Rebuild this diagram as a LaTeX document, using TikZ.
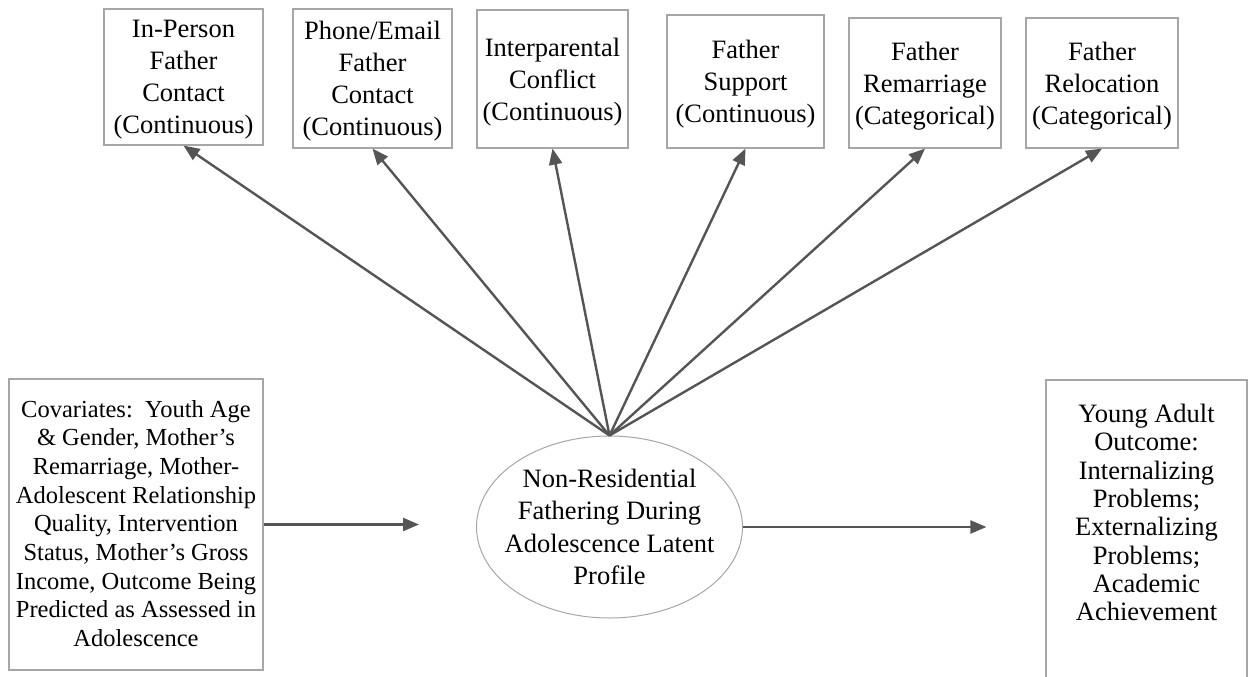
\documentclass[tikz,border=0pt]{standalone}
\usepackage{fontspec}
\setmainfont{Liberation Serif}
\usetikzlibrary{arrows.meta,shapes.geometric,calc}
\definecolor{arrowgray}{HTML}{555555}
\definecolor{framegray}{HTML}{A6A6A6}
\begin{document}
\begin{tikzpicture}[x=1pt,y=-1pt,
  frame/.style={draw=framegray,line width=1.2pt,inner sep=0pt},
  toptext/.style={inner sep=0pt,align=center,font=\fontsize{26.5}{32}\selectfont},
  covtext/.style={inner sep=0pt,align=center,font=\fontsize{24.5}{28.7}\selectfont},
  outtext/.style={inner sep=0pt,align=center,font=\fontsize{26.5}{28.3}\selectfont},
  latent/.style={draw=framegray,line width=1pt,ellipse,inner sep=0pt},
  latenttext/.style={inner sep=0pt,align=center,font=\fontsize{26.5}{32.5}\selectfont},
  conn/.style={draw=arrowgray,line width=2.4pt,-{Triangle[length=16pt,width=13pt]}}]
\useasboundingbox (0,0) rectangle (1253,677);
\clip (0,0) rectangle (1253,677);

\node[frame,minimum width=159pt,minimum height=136pt] (b1) at (183.5,77) {};
\node[toptext] (b1t) at ($(b1.center)+(0,3)$) {In-Person\\Father\\Contact\\(Continuous)};
\node[frame,minimum width=159pt,minimum height=139pt] (b2) at (372.5,78.5) {};
\node[toptext] (b2t) at ($(b2.center)+(0,3)$) {Phone/Email\\Father\\Contact\\(Continuous)};
\node[frame,minimum width=151pt,minimum height=138pt] (b3) at (552.5,79) {};
\node[toptext] (b3t) at ($(b3.center)+(0,3)$) {Interparental\\Conflict\\(Continuous)};
\node[frame,minimum width=157pt,minimum height=133pt] (b4) at (745.5,81.5) {};
\node[toptext] (b4t) at ($(b4.center)+(0,3)$) {Father\\Support\\(Continuous)};
\node[frame,minimum width=152pt,minimum height=130pt] (b5) at (925,83) {};
\node[toptext] (b5t) at ($(b5.center)+(0,3)$) {Father\\Remarriage\\(Categorical)};
\node[frame,minimum width=152pt,minimum height=130pt] (b6) at (1102,83) {};
\node[toptext] (b6t) at ($(b6.center)+(0,3)$) {Father\\Relocation\\(Categorical)};

\node[frame,minimum width=254pt,minimum height=291pt] (cov) at (136,524.5) {};
\node[covtext] (covt) at ($(cov.center)+(0,-1)$)
  {Covariates:\ \ Youth Age\\\& Gender, Mother’s\\Remarriage, Mother-\\Adolescent Relationship\\Quality, Intervention\\Status, Mother’s Gross\\Income, Outcome Being\\Predicted as Assessed in\\Adolescence};

\node[latent,minimum width=266pt,minimum height=182pt] (ell) at (609.5,527) {};
\node[latenttext] (ellt) at (ell.center)
  {Non-Residential\\Fathering During\\Adolescence Latent\\Profile};

\node[frame,minimum width=201pt,minimum height=320pt] (outbox) at (1146.5,540) {};
\node[outtext] (outcome) at (1146.5,512.5)
  {Young Adult\\Outcome:\\Internalizing\\Problems;\\Externalizing\\Problems;\\Academic\\Achievement};

\foreach \b in {b1,b2,b3,b4,b5,b6}
  \draw[conn] (ell.north) -- (\b.south);
\draw[conn,shorten >=57pt] (cov.east) -- (cov.east -| ell.west);
\draw[conn,shorten >=59pt] (ell.east) -- (ell.east -| outbox.west);
\end{tikzpicture}
\end{document}
